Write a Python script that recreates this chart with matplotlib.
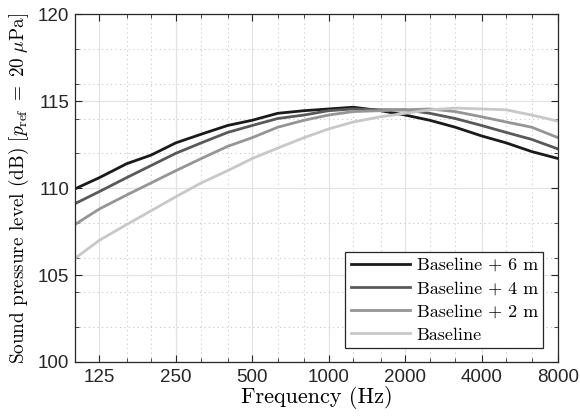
import numpy as np
import matplotlib
matplotlib.use("Agg")
import matplotlib.pyplot as plt
from matplotlib.ticker import FixedLocator, NullFormatter, MultipleLocator

plt.rcParams['mathtext.fontset'] = 'cm'
plt.rcParams['axes.unicode_minus'] = False

# third-octave band centres (Hz)
freq = [100, 125, 160, 200, 250, 315, 400, 500, 630, 800, 1000, 1250,
        1600, 2000, 2500, 3150, 4000, 5000, 6300, 8000]

spl_6m = [109.95, 110.6, 111.4, 111.9, 112.6, 113.1, 113.6, 113.9, 114.3, 114.45,
          114.55, 114.65, 114.45, 114.2, 113.9, 113.5, 113.0, 112.6, 112.1, 111.7]
spl_4m = [109.1, 109.8, 110.6, 111.3, 112.0, 112.6, 113.2, 113.6, 114.0, 114.2,
          114.45, 114.55, 114.5, 114.5, 114.3, 114.0, 113.6, 113.2, 112.8, 112.25]
spl_2m = [107.9, 108.8, 109.6, 110.3, 111.0, 111.7, 112.4, 112.9, 113.5, 113.9,
          114.2, 114.4, 114.45, 114.5, 114.55, 114.4, 114.1, 113.8, 113.5, 112.9]
spl_base = [105.95, 107.0, 107.9, 108.7, 109.5, 110.3, 111.0, 111.7, 112.3, 112.9,
            113.4, 113.8, 114.1, 114.3, 114.5, 114.6, 114.55, 114.5, 114.2, 113.85]

series = [("Baseline + 6 m", spl_6m, "#1a1a1a"),
          ("Baseline + 4 m", spl_4m, "#595959"),
          ("Baseline + 2 m", spl_2m, "#959595"),
          ("Baseline", spl_base, "#c8c8c8")]

octave_ticks = [125, 250, 500, 1000, 2000, 4000, 8000]
tick_labels = ["125", "250", "500", "1000", "2000", "4000", "8000"]

fig = plt.figure(figsize=(5.8, 4.17), dpi=100)
ax = fig.add_axes([0.129, 0.132, 0.833, 0.834])

for name, vals, col in series:
    ax.plot(freq, vals, color=col, lw=2.0, label=name)

ax.set_xscale('log')
ax.set_xlim(100, 8000)
ax.set_ylim(100, 120)
ax.xaxis.set_major_locator(FixedLocator(octave_ticks))
ax.set_xticklabels(tick_labels)
minor_f = [f for f in freq if f not in octave_ticks]
ax.xaxis.set_minor_locator(FixedLocator(minor_f))
ax.xaxis.set_minor_formatter(NullFormatter())
ax.yaxis.set_major_locator(MultipleLocator(5))
ax.yaxis.set_minor_locator(MultipleLocator(2))

ax.grid(True, which='major', color='#e3e3e3', lw=0.9, ls='-')
ax.grid(True, which='minor', color='#c8c8c8', lw=0.8, ls=(0, (1, 3)))
ax.set_axisbelow(True)

for s in ax.spines.values():
    s.set_color('#262626')
    s.set_linewidth(0.9)
ax.tick_params(which='both', direction='in', top=True, right=True, color='#262626')
ax.tick_params(which='major', length=5)
ax.tick_params(which='minor', length=3)
for lab in ax.get_xticklabels() + ax.get_yticklabels():
    lab.set_fontfamily('Liberation Sans')
    lab.set_fontsize(13.5)
    lab.set_color('#262626')
ax.tick_params(axis='x', pad=5)
ax.tick_params(axis='y', pad=4)

ax.set_xlabel('Frequency (Hz)', family='cmr10', fontsize=16, labelpad=0)
ax.set_ylabel(r'Sound pressure level (dB) [$p_{\mathrm{ref}}\ =\ 20\ \mu\mathrm{Pa}$]',
              family='cmr10', fontsize=13.8, labelpad=5)

leg = ax.legend(loc='lower right', bbox_to_anchor=(0.97, 0.04), prop={'family': 'cmr10', 'size': 13},
                fancybox=False, framealpha=1, edgecolor='#262626', handlelength=3.3,
                borderpad=0.3, labelspacing=0.42, handletextpad=0.35, borderaxespad=0.0)
leg.get_frame().set_linewidth(0.9)

fig.savefig('out.png', dpi=100)
